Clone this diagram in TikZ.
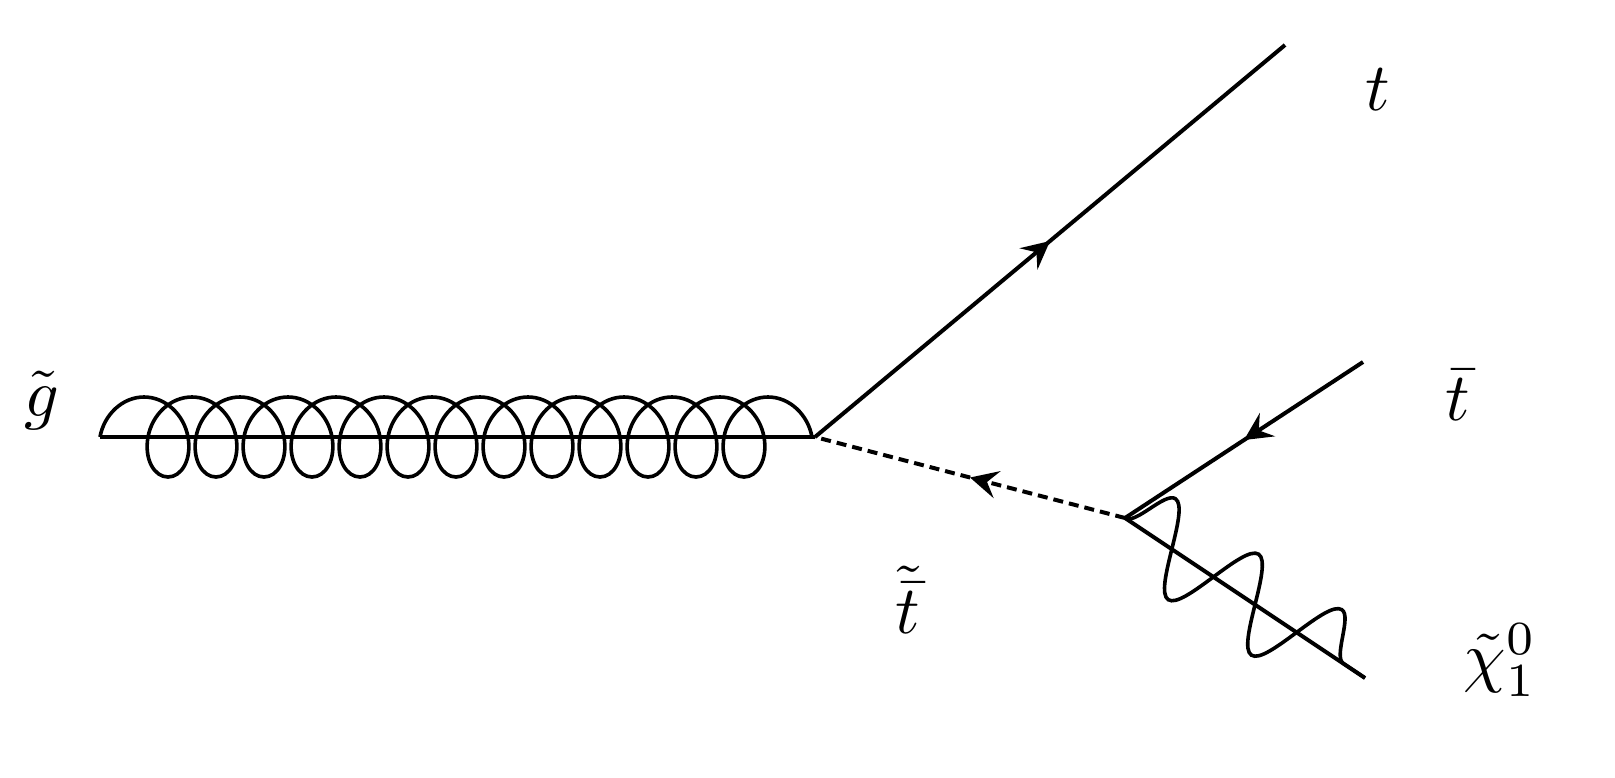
\documentclass[tikz,border=0pt]{standalone}
\usetikzlibrary{decorations.pathmorphing,decorations.markings,arrows}
\tikzset{
  fermion/.style={line width=2pt,postaction={decorate},
    decoration={markings,mark=at position 0.5 with {\arrow[scale=2]{stealth}}}},
  scalar/.style={fermion,dash pattern=on 5pt off 3pt},
  gluino/.style={line width=2pt},
  coilline/.style={line width=1.8pt,decorate,
    decoration={coil,aspect=0.8,amplitude=20pt,segment length=24pt}},
  wave/.style={line width=1.8pt,decorate,
    decoration={snake,amplitude=22pt,segment length=50pt}},
  lbl/.style={scale=3.4}
}
\begin{document}
\begin{tikzpicture}[x=0.5pt,y=-0.5pt]
\coordinate (gin) at (100,437);
\coordinate (v1) at (815,437);
\coordinate (v2) at (1125,518);
\coordinate (tout) at (1285,45);
\coordinate (tbin) at (1363,362);
\coordinate (chi) at (1365,678);

\draw[gluino] (gin) -- (v1);
\draw[coilline] (gin) -- (v1);
\draw[fermion] (v1) -- (tout);
\draw[scalar] (v2) -- (v1);
\draw[fermion] (tbin) -- (v2);
\draw[gluino] (v2) -- (chi);
\draw[wave] (v2) -- (chi);

\node[lbl] (gl) at (42,400) {$\tilde g$};
\node[lbl] (tl) at (1378,90) {$t$};
\node[lbl] (tbl) at (1458,395) {$\bar t$};
\node[lbl] (stl) at (908,600) {$\tilde{\bar t}$};
\node[lbl] (chl) at (1500,660) {$\tilde\chi^0_1$};
\pgfresetboundingbox
\useasboundingbox (0,0) rectangle (1615,777);
\end{tikzpicture}
\end{document}
